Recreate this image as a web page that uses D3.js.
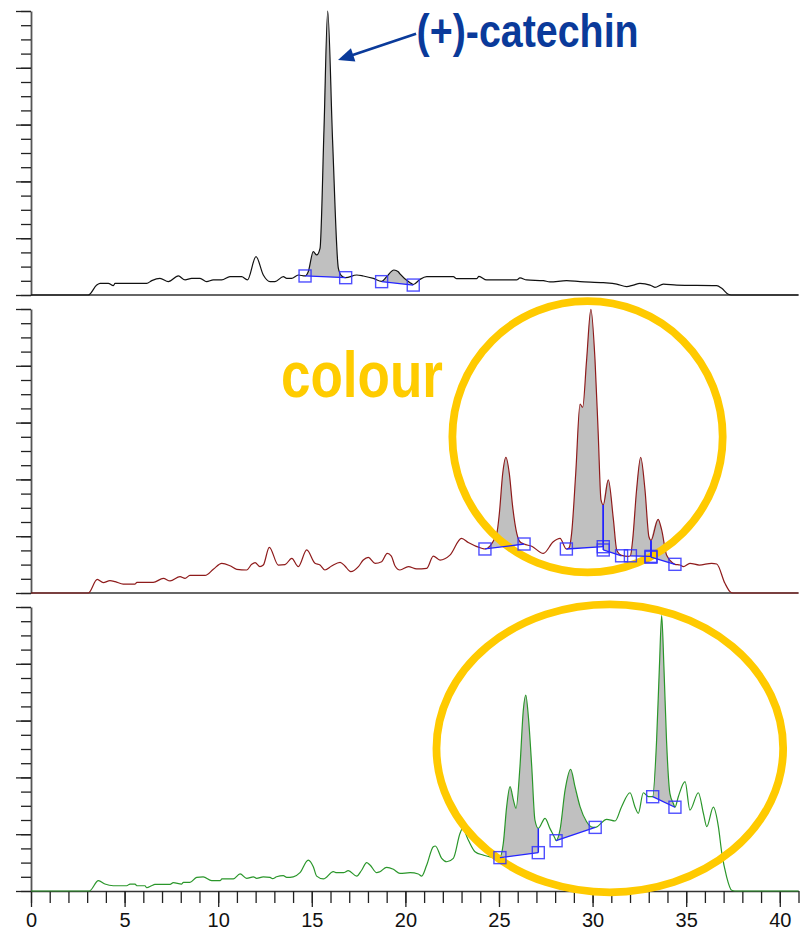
<!DOCTYPE html>
<html><head><meta charset="utf-8">
<script src="https://cdn.jsdelivr.net/npm/d3@7"></script>
<style>html,body{margin:0;padding:0;background:#fff;} svg{display:block;}</style>
</head><body>
<svg id="chart" width="803" height="932"></svg>
<script>
// ---- data: [retention time (min), signal (arbitrary units, 0-20 per panel)] ----
const topTrace = [[0,0],[3.06,0],[3.51,0.70],[3.69,0.82],[4.13,0.82],[4.40,0.66],[4.49,0.82],[6.18,0.82],[6.45,1.01],[6.89,1.17],[7.34,0.94],[7.87,1.34],[8.23,1.06],[8.58,1.17],[9.03,1.17],[9.38,0.94],[9.74,1.06],[10.19,1.06],[10.63,1.29],[11.25,1.29],[11.56,1.06],[12.02,2.70],[12.41,1.41],[12.77,0.94],[13.03,0.94],[13.48,1.29],[13.66,1.17],[13.92,1.17],[14.28,1.41],[14.64,1.34],[14.81,1.64],[15.08,3.05],[15.26,2.82],[15.44,3.29],[15.65,11.6],[15.85,20.0],[16.11,10.9],[16.42,1.88],[16.6,1.34],[16.81,1.22],[17.4,1.41],[17.75,1.34],[18.29,1.17],[18.73,0.96],[19.0,1.29],[19.39,1.76],[19.62,1.64],[19.71,1.48],[20.25,0.87],[20.42,0.74],[20.78,1.10],[21.14,1.29],[22.56,1.29],[22.74,1.15],[23.8,1.15],[23.93,1.31],[24.34,1.06],[25.94,1.06],[26.12,1.20],[26.48,1.06],[27.37,1.01],[27.72,0.92],[28.61,1.01],[29.33,0.94],[30.57,0.87],[31.29,0.77],[31.82,0.59],[32.18,0.70],[32.53,0.82],[33.07,0.70],[33.33,0.54],[33.78,0.77],[34.49,0.70],[36.63,0.66],[36.9,0.47],[37.25,0.05],[37.4,0],[41,0]];

const midTrace = [[0,0],[3.06,0],[3.54,0.96],[3.86,0.73],[4.22,0.87],[4.5,0.8],[4.93,0.63],[5.56,0.63],[5.66,0.75],[6.53,0.75],[7.07,1.03],[7.43,0.85],[7.96,1.15],[8.23,1.03],[8.49,1.24],[9.3,1.24],[9.74,1.67],[10.19,2.09],[10.63,1.92],[10.99,1.67],[11.52,1.62],[11.79,2.02],[11.97,2.14],[12.23,1.86],[12.41,1.97],[12.73,3.22],[13.21,1.97],[13.57,2.0],[13.93,2.44],[14.28,1.86],[14.73,3.03],[15.17,2.09],[15.44,1.97],[15.7,1.62],[16.06,1.9],[16.51,2.16],[16.77,1.9],[17.08,1.5],[17.49,1.86],[17.75,2.32],[18.02,2.51],[18.38,2.09],[18.73,2.2],[19.03,2.79],[19.25,2.6],[19.44,1.92],[19.71,1.62],[20.16,1.86],[20.6,1.7],[21.14,1.74],[21.49,2.6],[21.85,2.32],[22.38,2.67],[23.0,3.85],[23.36,3.55],[24.07,3.15],[24.25,3.1],[24.88,4.2],[25.02,5.61],[25.2,8.43],[25.37,9.55],[25.55,8.43],[25.73,6.08],[25.95,4.2],[26.12,3.61],[26.34,3.45],[26.75,3.29],[27.37,2.79],[27.9,3.61],[28.26,3.85],[28.6,3.1],[28.75,3.2],[28.88,4.2],[29.1,8.43],[29.33,13.3],[29.47,13.08],[29.68,16.4],[29.91,19.98],[30.13,16.4],[30.3,11.25],[30.45,6.55],[30.57,6.2],[30.84,7.96],[31.11,5.2],[31.29,3.03],[31.55,2.65],[31.9,2.58],[32.02,2.62],[32.14,3.73],[32.35,7.25],[32.57,9.55],[32.8,7.25],[33.01,3.96],[33.12,3.7],[33.5,5.19],[33.69,4.44],[33.95,2.68],[34.31,2.09],[34.4,2.02],[34.67,1.97],[34.85,1.86],[35.2,2.09],[35.7,1.97],[36.36,2.09],[36.63,2.04],[37.07,0.68],[37.34,0.1],[37.5,0],[41,0]];

const botTrace = [[0,0],[3.12,0],[3.6,0.73],[3.95,0.49],[4.4,0.37],[5.11,0.37],[5.29,0.49],[5.56,0.49],[5.65,0.37],[6.09,0.37],[6.18,0.23],[6.44,0.37],[6.62,0.47],[7.43,0.47],[7.6,0.59],[8.05,0.49],[8.14,0.61],[8.49,0.61],[8.85,0.96],[9.2,1.0],[9.65,0.73],[10.1,0.73],[10.2,0.85],[10.81,0.85],[11.17,1.2],[11.52,0.89],[11.88,1.0],[12.05,0.89],[12.41,1.0],[12.77,0.96],[12.9,0.87],[13.12,1.0],[13.48,1.08],[13.66,0.96],[14.01,1.0],[14.37,1.29],[14.81,2.18],[15.08,1.71],[15.26,1.05],[15.62,0.85],[16.15,1.36],[16.33,1.29],[16.69,1.29],[16.95,1.43],[17.4,1.05],[17.67,1.48],[17.93,2.0],[18.11,1.83],[18.47,1.29],[18.64,1.36],[19.0,1.67],[19.36,1.53],[19.71,1.24],[20.25,1.29],[20.69,1.2],[20.87,1.05],[21.14,1.83],[21.49,3.12],[21.6,3.17],[21.94,2.3],[22.21,2.06],[22.56,2.3],[22.92,4.06],[23.05,4.4],[23.36,3.59],[23.72,2.77],[24.16,2.53],[24.52,2.41],[25.05,2.38],[25.23,3.35],[25.41,5.94],[25.59,7.35],[25.77,6.4],[25.91,5.82],[26.12,8.75],[26.3,12.75],[26.43,13.8],[26.57,12.27],[26.75,8.75],[26.92,5.0],[27.1,4.41],[27.46,5.12],[27.72,4.41],[27.99,3.71],[28.05,3.54],[28.26,4.3],[28.53,7.1],[28.83,8.57],[29.06,7.35],[29.33,5.94],[29.68,4.88],[30.03,4.48],[30.14,4.48],[30.75,5.05],[31.2,4.93],[31.55,5.94],[32.0,6.92],[32.26,5.94],[32.44,5.47],[32.71,6.92],[32.98,6.64],[33.21,6.64],[33.42,10.63],[33.57,15.8],[33.69,19.4],[33.81,15.8],[33.95,10.6],[34.13,6.88],[34.31,6.18],[34.4,5.9],[34.58,6.64],[34.94,7.7],[35.2,5.7],[35.65,6.92],[35.92,5.47],[36.1,4.53],[36.45,5.9],[36.72,4.53],[36.9,2.7],[37.16,1.0],[37.43,0.05],[37.6,0],[41,0]];

// integrated peaks: [start time, baseline at start, end time, baseline at end]
const topPeaks = [[14.64,1.34,16.81,1.22],[18.73,0.94,20.42,0.70]];
const midPeaks = [[24.25,3.10,26.34,3.45],[28.6,3.10,30.57,3.26],[30.57,3.03,31.55,2.62],[32.02,2.62,33.12,2.58],[33.12,2.52,34.4,2.02]];
const botPeaks = [[25.05,2.35,27.1,2.70],[28.05,3.54,30.14,4.48],[33.21,6.64,34.4,5.90]];

const xMinorTicks = d3.range(0, 42, 1);
const xMajorTicks = [0,5,10,15,20,25,30,35,40];
const yMinorTicks = d3.range(0, 21, 1);
const yMajorTicks = [0,4,8,12,16,20];
const labelCompound = "(+)-catechin";
const labelColour = "colour";

// ---- layout ----
const svg = d3.select('#chart');
const x = d3.scaleLinear().domain([0, 41]).range([31, 798.5]);
const panelH = 284;
const panels = [
  {data: topTrace, peaks: topPeaks, color: '#111111', base: 295},
  {data: midTrace, peaks: midPeaks, color: '#8e1b1b', base: 593},
  {data: botTrace, peaks: botPeaks, color: '#2a962a', base: 891}
];
panels.forEach(p => { p.y = d3.scaleLinear().domain([0, 20]).range([p.base, p.base - panelH]); });

function interp(data, t) {
  for (let i = 1; i < data.length; i++) {
    if (data[i][0] >= t) {
      const a = data[i-1], b = data[i];
      const f = (t - a[0]) / (b[0] - a[0] || 1);
      return a[1] + f * (b[1] - a[1]);
    }
  }
  return data[data.length-1][1];
}

const gAxes = svg.append('g');
const gFill = svg.append('g');
const gLines = svg.append('g');
const gRings = svg.append('g');
const gMarks = svg.append('g');
const gText = svg.append('g');

panels.forEach((p, pi) => {
  // y axes (minor + major ticks)
  const ga = gAxes.append('g').attr('transform', `translate(${x(0)},0)`);
  ga.call(d3.axisLeft(p.y).tickValues(yMinorTicks).tickSize(10).tickSizeOuter(0).tickFormat(''));
  ga.append('g').call(d3.axisLeft(p.y).tickValues(yMajorTicks).tickSize(15).tickSizeOuter(0).tickFormat(''))
    .select('.domain').remove();
  ga.selectAll('.domain').attr('stroke', '#555').attr('stroke-width', 1.8);
  ga.selectAll('.tick line').attr('stroke', '#222').attr('stroke-width', 1.3);

  // horizontal axis line
  if (pi < 2) {
    gAxes.append('line').attr('x1', x(0)).attr('x2', x(41)).attr('y1', p.base).attr('y2', p.base)
      .attr('stroke', '#333').attr('stroke-width', 1.6);
  } else {
    const gx = gAxes.append('g').attr('transform', `translate(0,${p.base})`);
    gx.call(d3.axisBottom(x).tickValues(xMinorTicks).tickSize(12).tickSizeOuter(0).tickFormat(''));
    gx.append('g').call(d3.axisBottom(x).tickValues(xMajorTicks).tickSize(16).tickSizeOuter(0).tickPadding(6).tickFormat(d3.format('d')))
      .call(g => g.select('.domain').remove());
    gx.selectAll('.domain').attr('stroke', '#333').attr('stroke-width', 1.6);
    gx.selectAll('.tick line').attr('stroke', '#222').attr('stroke-width', 1.3);
    gx.selectAll('.tick text').attr('font-family', '"Liberation Sans", Arial, sans-serif')
      .attr('font-size', 20).attr('fill', '#111');
  }

  // integrated peak fills
  p.peaks.forEach(pk => {
    const [t0, b0, t1, b1] = pk;
    const base = t => b0 + (b1 - b0) * (t - t0) / (t1 - t0);
    const pts = [[t0, interp(p.data, t0)]]
      .concat(p.data.filter(d => d[0] > t0 + 1e-6 && d[0] < t1 - 1e-6))
      .concat([[t1, interp(p.data, t1)]]);
    const area = d3.area().x(d => x(d[0])).y0(d => p.y(base(d[0]))).y1(d => p.y(d[1])).curve(d3.curveMonotoneX);
    gFill.append('path').attr('d', area(pts)).attr('fill', '#c0c0c0').attr('stroke', 'none');
  });

  // trace
  const line = d3.line().x(d => x(d[0])).y(d => p.y(d[1])).curve(d3.curveMonotoneX);
  gLines.append('path').attr('d', line(p.data)).attr('fill', 'none')
    .attr('stroke', p.color).attr('stroke-width', 1.2).attr('stroke-linejoin', 'round');

  // baselines, drop lines and markers
  p.peaks.forEach(pk => {
    const [t0, b0, t1, b1] = pk;
    gMarks.append('line').attr('x1', x(t0)).attr('y1', p.y(b0)).attr('x2', x(t1)).attr('y2', p.y(b1))
      .attr('stroke', '#2323ff').attr('stroke-width', 1.3);
    [[t0, b0], [t1, b1]].forEach(([t, b]) => {
      const v = interp(p.data, t);
      if (Math.abs(v - b) > 0.4) {
        gMarks.append('line').attr('x1', x(t)).attr('x2', x(t)).attr('y1', p.y(b)).attr('y2', p.y(v))
          .attr('stroke', '#2323ff').attr('stroke-width', 1.5);
      }
      gMarks.append('rect').attr('x', x(t) - 6).attr('y', p.y(b) - 6).attr('width', 12).attr('height', 12)
        .attr('fill', 'none').attr('stroke', '#3030ff').attr('stroke-width', 1.4).attr('stroke-opacity', 0.85);
    });
  });
});

// highlight rings (positioned in data coordinates)
const yM = panels[1].y, yB = panels[2].y, yT = panels[0].y;
const ringDefs = [
  {cx: 29.73, cy: 11.0, rx: 7.22, ry: 9.55, y: yM},
  {cx: 30.92, cy: 10.05, rx: 9.26, ry: 10.14, y: yB}
];
ringDefs.forEach(r => {
  const kx = x(1) - x(0), ky = r.y(0) - r.y(1);
  gRings.append('ellipse').attr('cx', x(r.cx)).attr('cy', r.y(r.cy))
    .attr('rx', r.rx * kx).attr('ry', r.ry * ky)
    .attr('fill', 'none').attr('stroke', '#ffca00').attr('stroke-width', 7.8);
});

// annotations
const annBlue = '#0a3a9a';
const tip = [x(16.4), yT(16.55)], tail = [x(20.57), yT(18.4)];
const dx = tip[0] - tail[0], dy = tip[1] - tail[1], L = Math.hypot(dx, dy);
const ux = dx / L, uy = dy / L, hl = 16, hw = 7;
const bx = tip[0] - ux * hl, by = tip[1] - uy * hl;
gText.append('line').attr('x1', tail[0]).attr('y1', tail[1]).attr('x2', bx + ux * 2).attr('y2', by + uy * 2)
  .attr('stroke', annBlue).attr('stroke-width', 2.6);
gText.append('path').attr('d', `M${tip[0]},${tip[1]}L${bx - uy * hw},${by + ux * hw}L${bx + uy * hw},${by - ux * hw}Z`)
  .attr('fill', annBlue);
gText.append('text').attr('x', x(20.6)).attr('y', yT(17.47))
  .attr('font-family', '"Liberation Sans Narrow", "Liberation Sans", Arial, sans-serif')
  .attr('font-weight', 'bold').attr('font-size', 46).attr('fill', annBlue)
  .attr('textLength', 222).attr('lengthAdjust', 'spacingAndGlyphs').text(labelCompound);
gText.append('text').attr('x', x(13.35)).attr('y', yM(13.8))
  .attr('font-family', '"Liberation Sans Narrow", "Liberation Sans", Arial, sans-serif')
  .attr('font-weight', 'bold').attr('font-size', 64).attr('fill', '#ffcc00')
  .attr('textLength', 162).attr('lengthAdjust', 'spacingAndGlyphs').text(labelColour);
</script>
</body></html>
